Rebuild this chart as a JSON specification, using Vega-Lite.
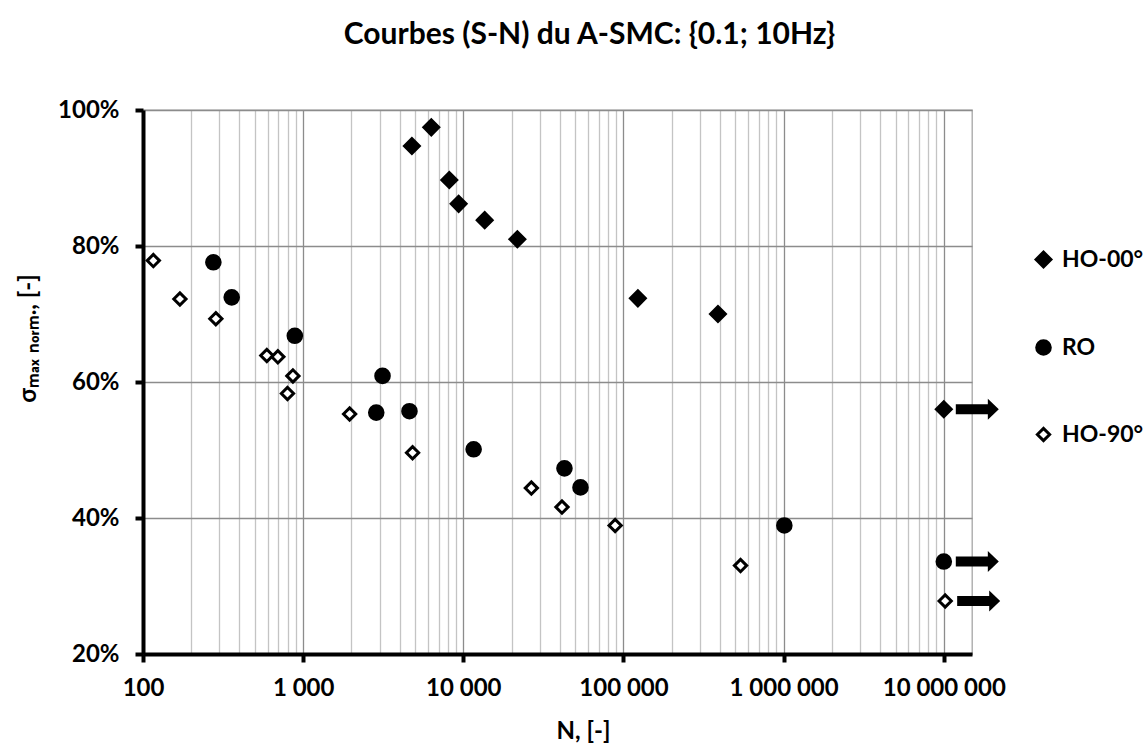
{
  "$schema": "https://vega.github.io/schema/vega-lite/v6.json",
  "autosize": "none",
  "width": 829,
  "height": 544,
  "padding": {"left": 143, "top": 110, "right": 175, "bottom": 95},
  "background": "white",
  "title": {
    "text": "Courbes (S-N) du A-SMC: {0.1; 10Hz}",
    "font": "Lato",
    "fontSize": 30,
    "fontWeight": "bold",
    "color": "black",
    "anchor": "middle",
    "frame": "group",
    "dx": 32,
    "offset": 48
  },
  "config": {
    "font": "Lato",
    "view": {"stroke": "#a6a6a6", "strokeWidth": 1.3},
    "axis": {
      "labelFont": "Lato",
      "labelFontWeight": "bold",
      "labelFontSize": 24,
      "labelColor": "black",
      "titleFont": "Lato",
      "titleFontWeight": "bold",
      "titleFontSize": 24,
      "titleColor": "black"
    },
    "legend": {
      "labelFont": "Lato",
      "labelFontWeight": "bold",
      "labelFontSize": 23,
      "labelColor": "black",
      "labelOffset": 7,
      "rowPadding": 61,
      "symbolStrokeWidth": 3
    }
  },
  "data": {
    "values": [
      {"N": 4775, "s": 0.947, "serie": "HO-00°", "runout": false},
      {"N": 6310, "s": 0.9745, "serie": "HO-00°", "runout": false},
      {"N": 8175, "s": 0.897, "serie": "HO-00°", "runout": false},
      {"N": 9350, "s": 0.862, "serie": "HO-00°", "runout": false},
      {"N": 13600, "s": 0.838, "serie": "HO-00°", "runout": false},
      {"N": 21750, "s": 0.81, "serie": "HO-00°", "runout": false},
      {"N": 123000, "s": 0.723, "serie": "HO-00°", "runout": false},
      {"N": 389000, "s": 0.7, "serie": "HO-00°", "runout": false},
      {"N": 10000000, "s": 0.56, "serie": "HO-00°", "runout": true},
      {"N": 275, "s": 0.776, "serie": "RO", "runout": false},
      {"N": 358, "s": 0.7245, "serie": "RO", "runout": false},
      {"N": 887, "s": 0.668, "serie": "RO", "runout": false},
      {"N": 3130, "s": 0.609, "serie": "RO", "runout": false},
      {"N": 2860, "s": 0.555, "serie": "RO", "runout": false},
      {"N": 4610, "s": 0.557, "serie": "RO", "runout": false},
      {"N": 11600, "s": 0.501, "serie": "RO", "runout": false},
      {"N": 42800, "s": 0.473, "serie": "RO", "runout": false},
      {"N": 53900, "s": 0.445, "serie": "RO", "runout": false},
      {"N": 1010000, "s": 0.389, "serie": "RO", "runout": false},
      {"N": 10000000, "s": 0.336, "serie": "RO", "runout": true},
      {"N": 116, "s": 0.7785, "serie": "HO-90°", "runout": false},
      {"N": 170, "s": 0.722, "serie": "HO-90°", "runout": false},
      {"N": 285, "s": 0.693, "serie": "HO-90°", "runout": false},
      {"N": 593, "s": 0.639, "serie": "HO-90°", "runout": false},
      {"N": 695, "s": 0.637, "serie": "HO-90°", "runout": false},
      {"N": 863, "s": 0.609, "serie": "HO-90°", "runout": false},
      {"N": 798, "s": 0.583, "serie": "HO-90°", "runout": false},
      {"N": 1950, "s": 0.553, "serie": "HO-90°", "runout": false},
      {"N": 4820, "s": 0.496, "serie": "HO-90°", "runout": false},
      {"N": 26600, "s": 0.444, "serie": "HO-90°", "runout": false},
      {"N": 41300, "s": 0.416, "serie": "HO-90°", "runout": false},
      {"N": 88700, "s": 0.389, "serie": "HO-90°", "runout": false},
      {"N": 538000, "s": 0.33, "serie": "HO-90°", "runout": false},
      {"N": 10200000, "s": 0.278, "serie": "HO-90°", "runout": true}
    ]
  },
  "encoding": {
    "y": {
      "field": "s",
      "type": "quantitative",
      "scale": {"domain": [0.2, 1.0], "nice": false, "zero": false},
      "axis": {
        "values": [0.2, 0.4, 0.6, 0.8, 1.0],
        "format": ".0%",
        "grid": true,
        "gridColor": "#8c8c8c",
        "gridWidth": 1.3,
        "domainColor": "black",
        "domainWidth": 4,
        "tickColor": "black",
        "tickWidth": 4,
        "tickSize": 8,
        "labelPadding": 16,
        "title": "σₘₐₓ ₙₒᵣₘ., [-]",
        "titleAngle": -90,
        "titleAlign": "center",
        "titleBaseline": "alphabetic",
        "titleX": -108,
        "titleY": 228
      }
    }
  },
  "resolve": {"axis": {"x": "independent"}},
  "layer": [
    {
      "mark": {"type": "point", "filled": true, "strokeWidth": 3, "opacity": 1},
      "encoding": {
        "x": {
          "field": "N",
          "type": "quantitative",
          "scale": {"type": "log", "domain": [100, 15000000], "nice": false},
          "axis": {
            "orient": "bottom",
            "values": [200, 300, 400, 500, 600, 700, 800, 900, 2000, 3000, 4000, 5000, 6000, 7000, 8000, 9000, 20000, 30000, 40000, 50000, 60000, 70000, 80000, 90000, 200000, 300000, 400000, 500000, 600000, 700000, 800000, 900000, 2000000, 3000000, 4000000, 5000000, 6000000, 7000000, 8000000, 9000000],
            "grid": true,
            "gridColor": "#c4c4c4",
            "gridWidth": 1.3,
            "labels": false,
            "ticks": false,
            "domain": false,
            "title": null
          }
        },
        "shape": {
          "field": "serie",
          "type": "nominal",
          "scale": {"domain": ["HO-00°", "RO", "HO-90°"], "range": ["diamond", "circle", "diamond"]},
          "legend": {"title": null, "orient": "none", "legendX": 889, "legendY": 138}
        },
        "fill": {
          "field": "serie",
          "type": "nominal",
          "scale": {"domain": ["HO-00°", "RO", "HO-90°"], "range": ["black", "black", "white"]},
          "legend": {"title": null, "orient": "none", "legendX": 889, "legendY": 138}
        },
        "stroke": {
          "field": "serie",
          "type": "nominal",
          "scale": {"domain": ["HO-00°", "RO", "HO-90°"], "range": ["black", "black", "black"]},
          "legend": {"title": null, "orient": "none", "legendX": 889, "legendY": 138}
        },
        "size": {
          "field": "serie",
          "type": "nominal",
          "scale": {"domain": ["HO-00°", "RO", "HO-90°"], "range": [220, 150, 130]},
          "legend": {"title": null, "orient": "none", "legendX": 889, "legendY": 138}
        }
      }
    },
    {
      "transform": [{"filter": "datum.runout"}],
      "mark": {
        "type": "point",
        "filled": true,
        "color": "black",
        "opacity": 1,
        "size": 1849,
        "xOffset": 33.5,
        "shape": "M-1,-0.233 L0.49,-0.233 L0.49,-0.488 L1,0 L0.49,0.488 L0.49,0.233 L-1,0.233 Z"
      },
      "encoding": {
        "x": {
          "field": "N",
          "type": "quantitative",
          "scale": {"type": "log", "domain": [100, 15000000], "nice": false},
          "axis": {
            "orient": "bottom",
            "values": [100, 1000, 10000, 100000, 1000000, 10000000],
            "labelExpr": "replace(format(datum.value, ','), regexp(',', 'g'), ' ')",
            "grid": true,
            "gridColor": "#8c8c8c",
            "gridWidth": 1.3,
            "domainColor": "black",
            "domainWidth": 4,
            "tickColor": "black",
            "tickWidth": 4,
            "tickSize": 8,
            "labelPadding": 14,
            "labelFlush": false,
            "labelOverlap": false,
            "title": "N, [-]",
            "titleX": 440,
            "titleY": 77,
            "titleBaseline": "middle"
          }
        }
      }
    }
  ]
}
